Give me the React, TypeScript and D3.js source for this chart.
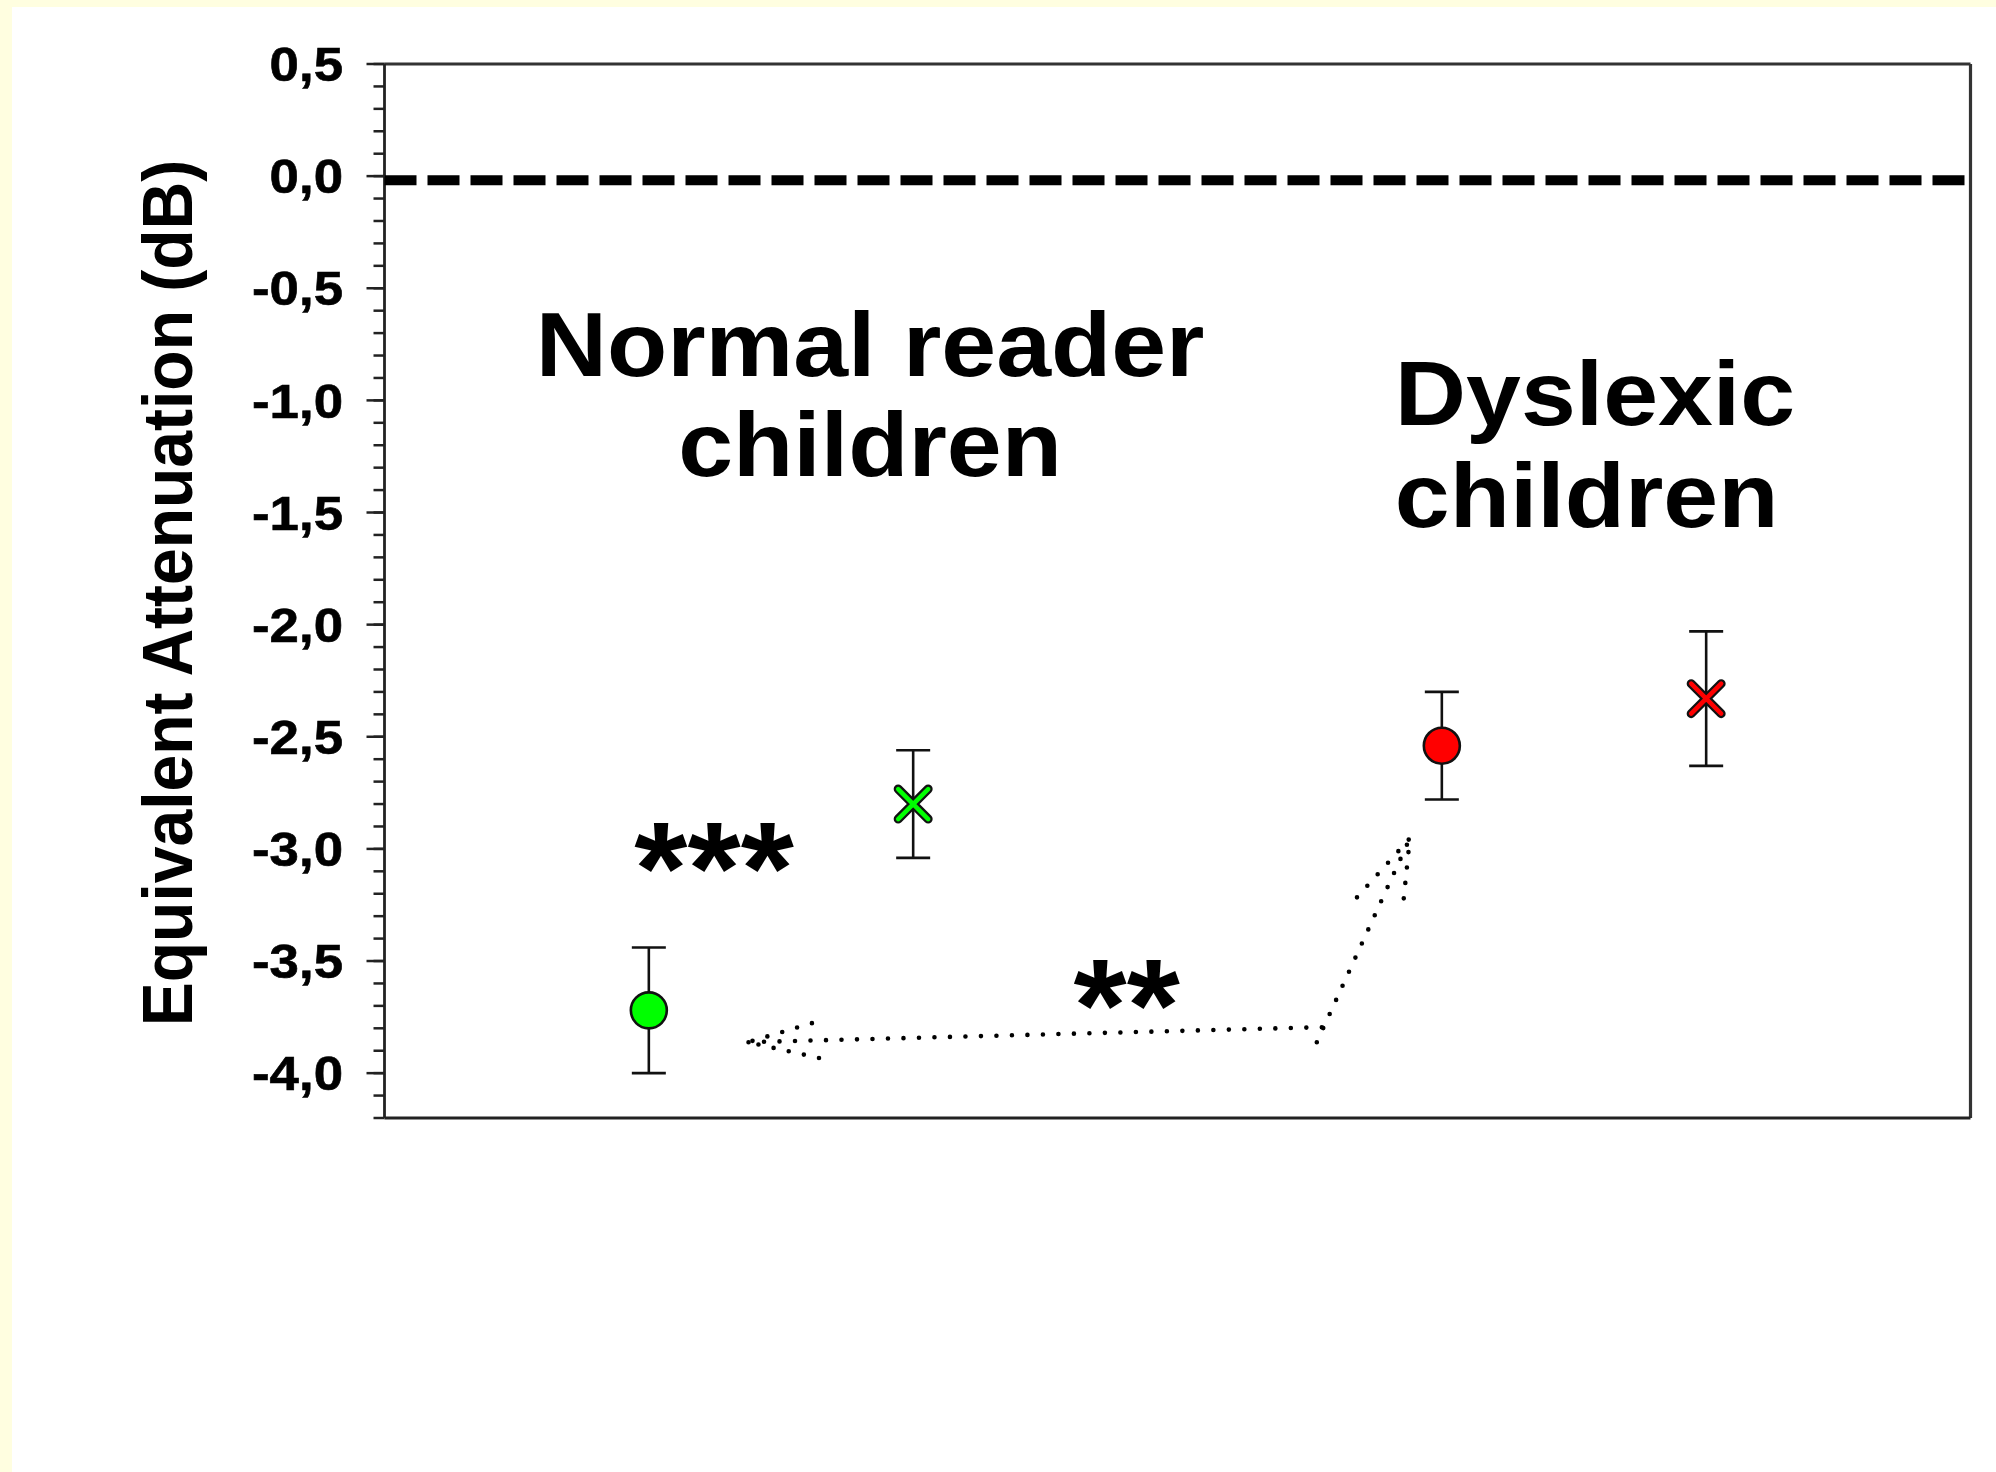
import React from 'react';
import * as d3 from 'd3';

const W = 1996;
const H = 1472;

// ---- data ----
const groupNames = ['Normal reader (circle)', 'Normal reader (cross)', 'Dyslexic (circle)', 'Dyslexic (cross)'];
const groupX = [1, 2, 4, 5];
const groupMeans = [-3.72, -2.8, -2.54, -2.33];
const groupErrors = [0.28, 0.24, 0.24, 0.3];
const groupColors = ['#00ff00', '#00ff00', '#ff0000', '#ff0000'];
const groupShapes = ['circle', 'cross', 'circle', 'cross'];

const yMajorTicks = [0.5, 0, -0.5, -1, -1.5, -2, -2.5, -3, -3.5, -4];
const yMinorTicks = d3.range(5, -43, -1).map((d) => d / 10);
const yDomain = [-4.2, 0.5];
const xDomain = [0, 6];
const yTitle = 'Equivalent Attenuation (dB)';

// annotation text (data coordinates)
const groupLabels = [
  { lines: ['Normal reader', 'children'], x: 1.837, y: [-0.89, -1.336], anchor: 'middle' },
  { lines: ['Dyslexic', 'children'], x: 3.822, y: [-1.111, -1.566], anchor: 'start' },
];
const sigLabels = [
  { text: '***', x: 0.945, y: -3.29 },
  { text: '**', x: 2.607, y: -3.9 },
];

// dotted arrow annotation (data coordinates)
const arrowShaftUp: [number, number][] = [[3.527, -3.862], [3.879, -2.953]];
const arrowShaftLeft: [number, number][] = [[3.546, -3.795], [1.375, -3.862]];
const arrowHeadLeft: [number, number][] = [[1.617, -3.777], [1.375, -3.862], [1.666, -3.938]];
const arrowHeadTop: [number, number][] = [[3.679, -3.216], [3.879, -2.953], [3.853, -3.255]];

const fmt = d3
  .formatLocale({ decimal: ',', thousands: '.', grouping: [3], currency: ['', ''], minus: '-' })
  .format('.1f');

export default function App() {
  const left = 384.5;
  const right = 1970.5;
  const top = 64;
  const bottom = 1118;
  const x = d3.scaleLinear().domain(xDomain).range([left, right]);
  const y = d3.scaleLinear().domain(yDomain).range([bottom, top]);
  const line = d3
    .line<[number, number]>()
    .x((d) => x(d[0]))
    .y((d) => y(d[1]));

  const font = 'Arial, "Liberation Sans", sans-serif';
  const sx = 1.09;
  const tickFont = 48;
  const capHalf = 17;
  const crossHalf = 15;
  const zeroOffset = 4;

  const dotted = {
    fill: 'none',
    stroke: '#000',
    strokeWidth: 4.6,
    strokeLinecap: 'round' as const,
    strokeDasharray: '0 15.5',
  };

  return (
    <svg
      width={W}
      height={H}
      style={{ position: 'absolute', left: 0, top: 0, display: 'block' }}
      xmlns="http://www.w3.org/2000/svg"
    >
      <rect x={0} y={0} width={W} height={H} fill="#fffee0" />
      <rect x={12} y={7} width={W - 12} height={H - 7} fill="#ffffff" />

      {/* frame */}
      <line x1={left} x2={right} y1={top} y2={top} stroke="#333" strokeWidth={2.8} />
      <line x1={right} x2={right} y1={top} y2={bottom} stroke="#333" strokeWidth={3.2} />
      <line x1={left} x2={right} y1={bottom} y2={bottom} stroke="#222" strokeWidth={2.8} />
      <line x1={left} x2={left} y1={top} y2={bottom} stroke="#222" strokeWidth={2.8} />

      {/* zero line */}
      <line
        x1={left}
        x2={right}
        y1={y(0) + zeroOffset}
        y2={y(0) + zeroOffset}
        stroke="#000"
        strokeWidth={10}
        strokeDasharray="32 11"
      />

      {/* ticks */}
      {yMinorTicks.map((t) => (
        <line key={'mi' + t} x1={left - 11} x2={left} y1={y(t)} y2={y(t)} stroke="#222" strokeWidth={2.5} />
      ))}
      {yMajorTicks.map((t) => (
        <g key={'ma' + t}>
          <line x1={left - 18} x2={left} y1={y(t)} y2={y(t)} stroke="#222" strokeWidth={2.5} />
          <text
            transform={`translate(${left - 41.5},${y(t) + tickFont * 0.358}) scale(1.1,1)`}
            textAnchor="end"
            fontFamily={font}
            fontWeight="bold"
            fontSize={tickFont}
            fill="#000"
            stroke="#000"
            strokeWidth={0.6}
          >
            {fmt(t)}
          </text>
        </g>
      ))}

      {/* y title */}
      <text
        transform={`translate(192,593) scale(1.08,1) rotate(-90)`}
        textAnchor="middle"
        fontFamily={font}
        fontWeight="bold"
        fontSize={66}
        fill="#000"
      >
        {yTitle}
      </text>

      {/* group labels */}
      {groupLabels.map((g) =>
        g.lines.map((ln, i) => (
          <text
            key={g.lines.join() + i}
            transform={`translate(${x(g.x)},${y(g.y[i])}) scale(${sx},1)`}
            textAnchor={g.anchor}
            fontFamily={font}
            fontWeight="bold"
            fontSize={90.5}
            fill="#000"
          >
            {ln}
          </text>
        ))
      )}

      {/* significance */}
      {sigLabels.map((s) => (
        <text
          key={s.text}
          transform={`translate(${x(s.x)},${y(s.y)}) scale(1.12,1.08)`}
          fontFamily={font}
          fontWeight="bold"
          fontSize={122}
          fill="#000"
        >
          {s.text}
        </text>
      ))}

      {/* dotted arrow */}
      <path d={line(arrowShaftUp) || ''} {...dotted} />
      <path d={line(arrowShaftLeft) || ''} {...dotted} />
      <path d={line(arrowHeadLeft) || ''} {...dotted} />
      <path d={line(arrowHeadTop) || ''} {...dotted} />

      {/* error bars */}
      {groupX.map((gx, i) => {
        const cx = x(gx);
        const y1 = y(groupMeans[i] + groupErrors[i]);
        const y2 = y(groupMeans[i] - groupErrors[i]);
        return (
          <g key={'eb' + i} stroke="#111" strokeWidth={2.6}>
            <line x1={cx} x2={cx} y1={y1} y2={y2} />
            <line x1={cx - capHalf} x2={cx + capHalf} y1={y1} y2={y1} />
            <line x1={cx - capHalf} x2={cx + capHalf} y1={y2} y2={y2} />
          </g>
        );
      })}

      {/* markers */}
      {groupX.map((gx, i) => {
        const cx = x(gx);
        const cy = y(groupMeans[i]);
        if (groupShapes[i] === 'circle') {
          return (
            <circle key={groupNames[i]} cx={cx} cy={cy} r={18} fill={groupColors[i]} stroke="#111" strokeWidth={2.6} />
          );
        }
        const d = `M${cx - crossHalf},${cy - crossHalf}L${cx + crossHalf},${cy + crossHalf}M${cx - crossHalf},${cy + crossHalf}L${cx + crossHalf},${cy - crossHalf}`;
        return (
          <g key={groupNames[i]}>
            <path d={d} stroke="#111" strokeWidth={9} strokeLinecap="round" fill="none" />
            <path d={d} stroke={groupColors[i]} strokeWidth={4.5} strokeLinecap="round" fill="none" />
          </g>
        );
      })}
    </svg>
  );
}
